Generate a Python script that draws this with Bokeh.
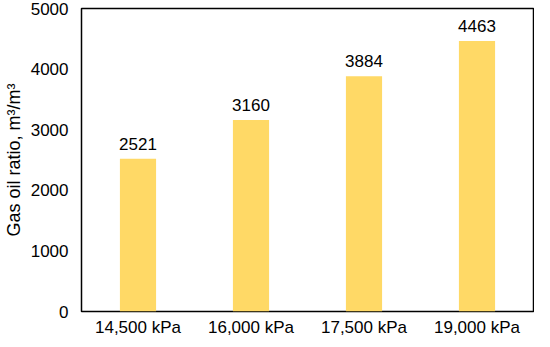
from bokeh.plotting import figure
from bokeh.models import ColumnDataSource, FactorRange, Range1d, FixedTicker
from bokeh.embed import file_html
from bokeh.resources import INLINE
from bokeh.core.properties import value

categories = ["14,500 kPa", "16,000 kPa", "17,500 kPa", "19,000 kPa"]
gor = [2521, 3160, 3884, 4463]
y_ticks = [0, 1000, 2000, 3000, 4000, 5000]

src = ColumnDataSource(dict(cat=categories, val=gor, lab=[str(v) for v in gor]))

p = figure(width=534, height=339, output_backend="svg", toolbar_location=None,
           x_range=FactorRange(*categories, range_padding=0), y_range=Range1d(0, 5000),
           min_border_left=75, min_border_right=1, min_border_top=8, min_border_bottom=0)
p.vbar(x="cat", top="val", width=0.32, source=src, color="#FFD966", line_color=None)
p.text(x="cat", y="val", text="lab", source=src, text_align="center", text_baseline="bottom",
       y_offset=-9, text_font=value("Liberation Sans"), text_font_size="17px", text_color="#000000")

p.outline_line_color = "#000000"
p.outline_line_width = 1.5
p.xgrid.grid_line_color = None
p.ygrid.grid_line_color = None
for ax in (p.xaxis[0], p.yaxis[0]):
    ax.axis_line_color = None
    ax.major_tick_line_color = None
    ax.minor_tick_line_color = None
    ax.major_tick_out = 0
    ax.major_tick_in = 0
    ax.minor_tick_out = 0
    ax.minor_tick_in = 0
    ax.major_label_text_font = "Liberation Sans"
    ax.major_label_text_font_size = "17px"
    ax.major_label_text_color = "#000000"
p.xaxis[0].axis_label = None
p.xaxis[0].axis_label_standoff = 0
p.yaxis[0].ticker = FixedTicker(ticks=y_ticks)
p.yaxis[0].major_label_standoff = 13
p.xaxis[0].major_label_standoff = 6
p.yaxis[0].axis_label = "Gas oil ratio, m³/m³"
p.yaxis[0].axis_label_text_font = "Liberation Sans"
p.yaxis[0].axis_label_text_font_size = "18px"
p.yaxis[0].axis_label_text_font_style = "normal"
p.yaxis[0].axis_label_text_color = "#000000"
p.yaxis[0].axis_label_standoff = 4

open("out.html", "w").write(file_html(p, INLINE))
